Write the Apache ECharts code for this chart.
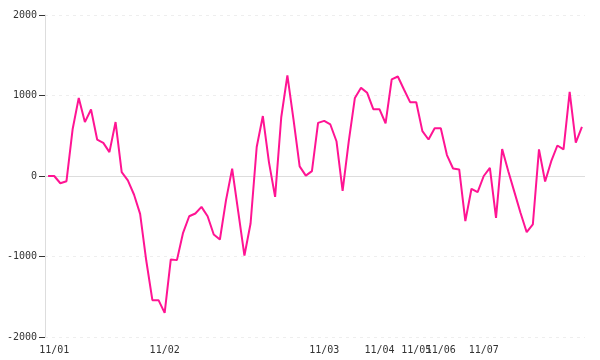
<!DOCTYPE html>
<html>
<head>
<meta charset="utf-8">
<script src="https://cdn.jsdelivr.net/npm/echarts@6/dist/echarts.min.js"></script>
<style>html,body{margin:0;padding:0;background:#fff}#c{width:600px;height:360px}</style>
</head>
<body>
<div id="c"></div>
<script>
// tick labels: day label and the point index where each day starts
const dayLabels = ['11/01', '11/02', '11/03', '11/04', '11/05', '11/06', '11/07'];
const dayStarts = [1, 19, 45, 54, 60, 64, 71];

// series values (88 points)
const values = [
  0, 0, -90, -65, 580, 970, 670, 826, 453, 412,
  296, 670, 47, -55, -230, -470, -1050, -1542, -1542, -1700,
  -1037, -1045, -706, -500, -466, -383, -500, -727, -789, -300,
  90, -450, -988, -590, 360, 745, 170, -260, 730, 1250,
  700, 120, 5, 60, 660, 685, 640, 432, -185, 430,
  970, 1095, 1033, 830, 830, 655, 1200, 1236, 1074, 917,
  917, 557, 453, 594, 594, 260, 93, 81, -561, -159,
  -201, 0, 100, -520, 335, 60, -200, -460, -698, -602,
  330, -68, 184, 379, 330, 1044, 416, 611
];

const yTicks = { min: -2000, max: 2000, interval: 1000 };

// categories: label text at day starts, otherwise the index
const categories = values.map((v, i) => {
  const k = dayStarts.indexOf(i);
  return k >= 0 ? dayLabels[k] : String(i);
});

const chart = echarts.init(document.getElementById('c'), null, { renderer: 'canvas' });
chart.setOption({
  animation: false,
  grid: { left: 45, right: 15, top: 15, bottom: 23, containLabel: false, outerBoundsMode: 'none' },
  xAxis: {
    type: 'category',
    boundaryGap: true,
    data: categories,
    axisLine: { show: false },
    axisTick: { show: false },
    splitLine: { show: false },
    axisLabel: {
      interval: (i) => dayStarts.indexOf(i) >= 0,
      hideOverlap: false,
      margin: 8,
      color: '#333',
      fontFamily: 'DejaVu Sans Mono',
      fontSize: 10
    }
  },
  yAxis: {
    type: 'value',
    min: yTicks.min,
    max: yTicks.max,
    interval: yTicks.interval,
    axisLine: { show: true, lineStyle: { color: '#ddd', width: 1 } },
    axisTick: { show: true, length: 6, lineStyle: { color: '#333', width: 1 } },
    axisLabel: {
      margin: 8,
      color: '#333',
      fontFamily: 'DejaVu Sans Mono',
      fontSize: 10,
      formatter: (v) => String(v)
    },
    splitLine: { show: true, lineStyle: { color: '#eee', type: [3, 4], width: 1 } }
  },
  series: [{
    type: 'line',
    data: values,
    showSymbol: false,
    symbol: 'none',
    smooth: false,
    lineStyle: { color: '#ff1493', width: 2 },
    itemStyle: { color: '#ff1493' },
    markLine: {
      silent: true,
      symbol: 'none',
      label: { show: false },
      lineStyle: { color: '#ddd', type: 'solid', width: 1 },
      data: [{ yAxis: 0 }],
      z: 1
    }
  }]
});
</script>
</body>
</html>
